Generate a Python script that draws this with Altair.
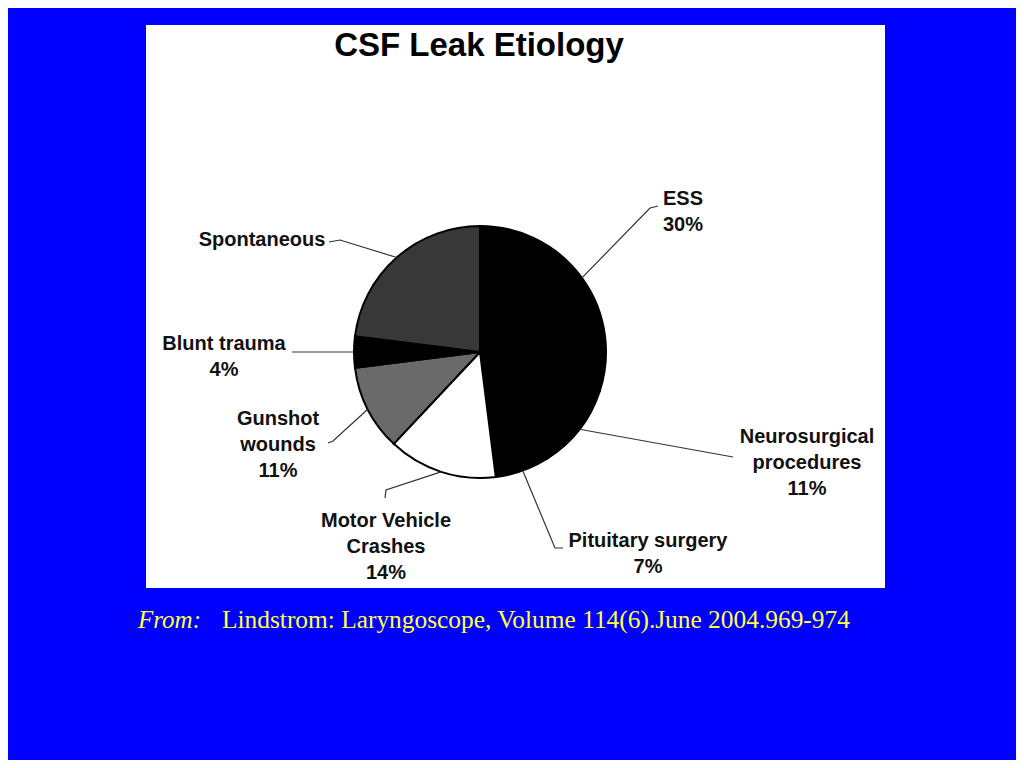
import math
import altair as alt
import pandas as pd

# ---------------- data ----------------
categories = ["ESS", "Neurosurgical procedures", "Pituitary surgery",
              "Motor Vehicle Crashes", "Gunshot wounds", "Blunt trauma", "Spontaneous"]
percents = [30, 11, 7, 14, 11, 4, 23]
label_lines = [["ESS", "30%"],
               ["Neurosurgical", "procedures", "11%"],
               ["Pituitary surgery", "7%"],
               ["Motor Vehicle", "Crashes", "14%"],
               ["Gunshot", "wounds", "11%"],
               ["Blunt trauma", "4%"],
               ["Spontaneous"]]
title_text = "CSF Leak Etiology"
source_prefix = "From:"
source_text = "Lindstrom: Laryngoscope, Volume 114(6).June 2004.969-974"

# ---------------- styles ----------------
slice_fills = ["#000000", "#000000", "#000000", "#ffffff", "#6a6a6a", "#000000", "#383838"]
BG = "#0000ff"
SOURCE_COLOR = "#ffff40"

# ---------------- layout (page pixels) ----------------
W, H = 1008, 752
OFF = 8
PIE_CX, PIE_CY, PIE_R = 480, 352, 126
label_x = [683, 807, 648, 386, 278, 224, 262]
label_y0 = [205, 443, 547, 527, 425, 350, 246]
LINE_H = 26
leader_pts = [[(650, 208), (658, 206)],
              [(733, 457)],
              [(555, 548), (563, 548)],
              [(386, 490), (385, 498)],
              [(333, 441), (328, 443)],
              [(292, 352)],
              [(340, 240), (329, 242)]]

# ---------------- tables ----------------
pie_df = pd.DataFrame({"cat": categories, "pct": percents, "idx": list(range(len(categories)))})

total = sum(percents)
line_rows = []
cum = 0.0
for i, (c, p) in enumerate(zip(categories, percents)):
    mid = (cum + p / 2.0) / total * 2 * math.pi
    cum += p
    px = PIE_CX + PIE_R * math.sin(mid)
    py = PIE_CY - PIE_R * math.cos(mid)
    pts = [(px, py)] + leader_pts[i]
    for k, (x, y) in enumerate(pts):
        line_rows.append({"cat": c, "ord": k, "x": x, "y": y})
line_df = pd.DataFrame(line_rows)

text_rows = []
for i, lines in enumerate(label_lines):
    for k, t in enumerate(lines):
        text_rows.append({"t": t, "x": label_x[i], "y": label_y0[i] + k * LINE_H})
text_df = pd.DataFrame(text_rows)

xs = alt.Scale(domain=[OFF, OFF + W], range=[0, W])
ys = alt.Scale(domain=[OFF, OFF + H], range=[0, H])
one = alt.Data(values=[{}])

panel = alt.Chart(one).mark_rect(fill="white").encode(
    x=alt.value(146 - OFF), x2=alt.value(885 - OFF),
    y=alt.value(25 - OFF), y2=alt.value(588 - OFF))

pie = alt.Chart(pie_df).mark_arc(outerRadius=PIE_R, stroke="#000000", strokeWidth=2).encode(
    theta=alt.Theta("pct:Q", stack=True),
    order=alt.Order("idx:Q", sort="ascending"),
    fill=alt.Fill("cat:N", scale=alt.Scale(domain=categories, range=slice_fills), legend=None),
    x=alt.value(PIE_CX - OFF), y=alt.value(PIE_CY - OFF))

leaders = alt.Chart(line_df).mark_line(color="#333333", strokeWidth=1.2).encode(
    x=alt.X("x:Q", scale=xs, axis=None),
    y=alt.Y("y:Q", scale=ys, axis=None),
    detail="cat:N",
    order=alt.Order("ord:Q"))

labels = alt.Chart(text_df).mark_text(
    font="Liberation Sans", fontWeight="bold", fontSize=20, align="center",
    baseline="alphabetic", color="#111111").encode(
    x=alt.X("x:Q", scale=xs, axis=None),
    y=alt.Y("y:Q", scale=ys, axis=None),
    text="t:N")

title = alt.Chart(one).mark_text(
    font="Liberation Sans", fontWeight="bold", fontSize=33, align="center",
    baseline="alphabetic", color="#000000").encode(
    x=alt.value(479 - OFF), y=alt.value(56 - OFF), text=alt.value(title_text))

src1 = alt.Chart(one).mark_text(
    font="Liberation Serif", fontStyle="italic", fontSize=25, align="left",
    baseline="alphabetic", color=SOURCE_COLOR).encode(
    x=alt.value(138 - OFF), y=alt.value(628 - OFF), text=alt.value(source_prefix))

src2 = alt.Chart(one).mark_text(
    font="Liberation Serif", fontSize=25.4, align="left",
    baseline="alphabetic", color=SOURCE_COLOR).encode(
    x=alt.value(222 - OFF), y=alt.value(628 - OFF), text=alt.value(source_text))

chart = alt.layer(panel, pie, leaders, labels, title, src1, src2).properties(
    width=W, height=H, background=BG, padding=0,
    autosize=alt.AutoSizeParams(type="none")
).configure_view(strokeWidth=0)

chart.save("out.html", embed_options={"renderer": "svg", "actions": False})
